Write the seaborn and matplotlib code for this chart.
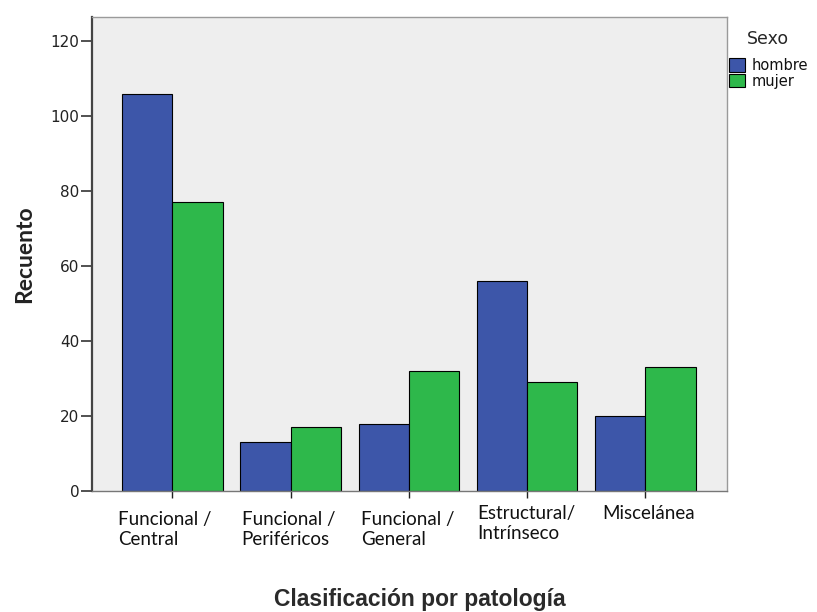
import pandas as pd
import numpy as np
import matplotlib
matplotlib.use('Agg')
import matplotlib.pyplot as plt
import seaborn as sns
from matplotlib.patches import Patch

# data
categorias = ['Funcional /\nCentral', 'Funcional /\nPeriféricos', 'Funcional /\nGeneral',
              'Estructural/\nIntrínseco', 'Miscelánea']
hombre = [106, 13, 18, 56, 20]
mujer = [77, 17, 32, 29, 33]
sexos = ['hombre', 'mujer']

df = pd.DataFrame({'categoria': categorias * 2,
                   'Sexo': ['hombre'] * 5 + ['mujer'] * 5,
                   'Recuento': hombre + mujer})

azul = '#3D56A9'
verde = '#2EB84B'

sns.set_style('white')
plt.rcParams['font.family'] = ['DejaVu Sans']

fig = plt.figure(figsize=(8.17, 6.12), dpi=100)
ax = fig.add_axes([92 / 817, 121 / 612, 635 / 817, 474 / 612])
ax.set_facecolor('#EEEEEE')

sns.barplot(data=df, x='categoria', y='Recuento', hue='Sexo', order=categorias,
            hue_order=sexos, palette=[azul, verde], saturation=1, width=0.85,
            edgecolor='black', linewidth=0.8, ax=ax, legend=False)

ax.set_ylim(0, 126.4)
ax.set_xlim(-0.68, 4.69)
ax.set_yticks(np.arange(0, 121, 20))
ax.tick_params(axis='y', length=8, width=1.2, color='#333333', labelsize=11, pad=1,
               left=True, labelcolor='#222222')
ax.tick_params(axis='x', length=5, width=1, color='#222222', bottom=True)

# x labels drawn as text, placed like the reference (offsets in px)
ax.set_xticks(range(len(categorias)))
ax.set_xticklabels([])
dx = [-54, -49, -48, -50, -43]
dy = [-20, -20, -20, -14, -14]
for i, lab in enumerate(categorias):
    ax.annotate(lab, xy=(i, 0), xycoords=('data', 'axes fraction'),
                xytext=(dx[i] * 0.72, dy[i] * 0.72), textcoords='offset points',
                ha='left', va='top', fontsize=13.5, family='Lato',
                color='#111111', linespacing=1.2)

for s in ['top', 'right']:
    ax.spines[s].set_color('#9A9A9A')
    ax.spines[s].set_linewidth(1)
ax.spines['left'].set_color('#444444')
ax.spines['left'].set_linewidth(1.6)
ax.spines['bottom'].set_color('#777777')
ax.spines['bottom'].set_linewidth(1)

ax.set_ylabel('Recuento', fontsize=16.5, fontweight='bold', family='Lato', color='#222222')
ax.yaxis.set_label_coords(-0.09, 0.5)
ax.set_xlabel('Clasificación por patología', fontsize=16.5, fontweight='bold',
              family='Liberation Sans', color='#2A2A2A')
ax.xaxis.set_label_coords(0.5165, -0.205)

handles = [Patch(facecolor=azul, edgecolor='black', linewidth=0.8),
           Patch(facecolor=verde, edgecolor='black', linewidth=0.8)]
leg = ax.legend(handles, sexos, title='Sexo', loc='upper left',
                bbox_to_anchor=(0.982, 1.0), frameon=False, fontsize=10.5,
                title_fontsize=12.5, handlelength=1.1, handleheight=1.05,
                handletextpad=0.45, labelspacing=0.05, borderaxespad=0.0,
                borderpad=0.9)
leg._legend_box.sep = 7  # more room between title and entries
for t in leg.get_texts():
    t.set_color('#111111')

fig.savefig('out.png', dpi=100)
